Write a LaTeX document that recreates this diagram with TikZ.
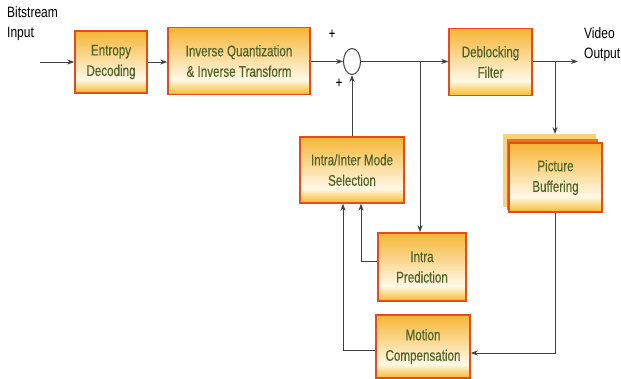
\documentclass[tikz,border=0pt]{standalone}
\usepackage{fontspec}
\setmainfont{Liberation Sans}
\newfontfamily\boxfont[FakeStretch=0.75,FakeBold=0.3]{Liberation Sans}
\newfontfamily\lblfont[FakeStretch=0.8]{Liberation Sans}
\usetikzlibrary{arrows.meta,calc,shapes.geometric}
\definecolor{shT}{HTML}{F6B535}
\definecolor{shW}{HTML}{FFF9E8}
\definecolor{shB}{HTML}{F6BA2A}
\definecolor{bordc}{HTML}{E54B1B}
\definecolor{txtc}{HTML}{4F6228}
\definecolor{linec}{HTML}{404040}
\definecolor{backlight}{HTML}{FAD27C}
\definecolor{backdark}{HTML}{E0781C}
\pgfdeclareverticalshading{boxshade}{100bp}{color(0bp)=(shB); color(25bp)=(shB); color(36bp)=(shW); color(75bp)=(shT); color(100bp)=(shT)}
\begin{document}
\begin{tikzpicture}[x=1pt,y=-1pt,
  blk/.style={draw=bordc, line width=1.4pt, shading=boxshade, font=\boxfont\fontsize{15.5}{20.5}\selectfont, text=txtc, align=center, inner sep=0pt},
  arr/.style={draw=linec, line width=0.9pt, -{Stealth[length=7pt,width=5pt]}},
  lbl/.style={font=\lblfont\fontsize{15}{20.5}\selectfont, text=black, align=left, inner sep=0pt}]
\useasboundingbox (0,0) rectangle (621,379);
% nodes
\node[blk, minimum width=72pt, minimum height=62pt] (entropy) at (111,62) {Entropy\\Decoding};
\node[blk, minimum width=142pt, minimum height=67pt] (iq) at (239,61) {Inverse Quantization\\\& Inverse Transform};
\node[draw=linec, line width=1pt, ellipse, minimum width=17pt, minimum height=26pt, inner sep=0pt, fill=white] (sum) at (352,61.5) {};
\node[blk, minimum width=83pt, minimum height=67pt] (deblock) at (490.5,62) {Deblocking\\Filter};
\node[blk, minimum width=104pt, minimum height=66pt] (mode) at (352,170) {Intra/Inter Mode\\Selection};
\node[blk, minimum width=88pt, minimum height=68pt] (intra) at (422,267) {Intra\\Prediction};
\node[blk, minimum width=94pt, minimum height=63pt] (mc) at (423,346.5) {Motion\\Compensation};
\fill[backlight] (503,134) rectangle (596,207);
\fill[backdark] (507,139) rectangle (598,210);
\node[blk, minimum width=93pt, minimum height=69pt] (buf) at (555.5,177.5) {Picture\\Buffering};
% labels
\node[lbl, anchor=north west] (bin) at (7,6) {Bitstream\\Input};
\node[lbl, anchor=north west] (vout) at (584,27) {Video\\Output};
\node[lbl, font=\boxfont\fontsize{15}{20}\selectfont] (plus1) at (332,34) {+};
\node[lbl, font=\boxfont\fontsize{15}{20}\selectfont] (plus2) at (339,83) {+};
% coordinates
\coordinate (in) at (40,62);
\coordinate (j1) at (420,61.5);
\coordinate (j2) at (555,61.5);
\coordinate (out) at (578,61.5);
\coordinate (buftop) at (555,134);
% connectors
\draw[arr] (in) -- (entropy.west);
\draw[arr] (entropy.east) -- (entropy.east -| iq.west);
\draw[arr] (iq.east |- sum.west) -- (sum.west);
\draw[arr] (sum.east) -- (sum.east -| deblock.west);
\draw[arr] (j1) -- (j1 |- intra.north);
\draw[arr] (mode.north) -- (sum.south);
\draw[arr] ($(intra.west)+(0,-6)$) -| ($(mode.south)+(9,0)$);
\draw[arr] ($(mc.west)+(0,3.5)$) -| ($(mode.south)+(-9,0)$);
\draw[arr] (deblock.east |- j2) -- (out);
\draw[arr] (j2) -- (buftop);
\draw[arr] (buf.south -| j2) |- ($(mc.east)+(0,6.5)$);
\end{tikzpicture}
\end{document}
